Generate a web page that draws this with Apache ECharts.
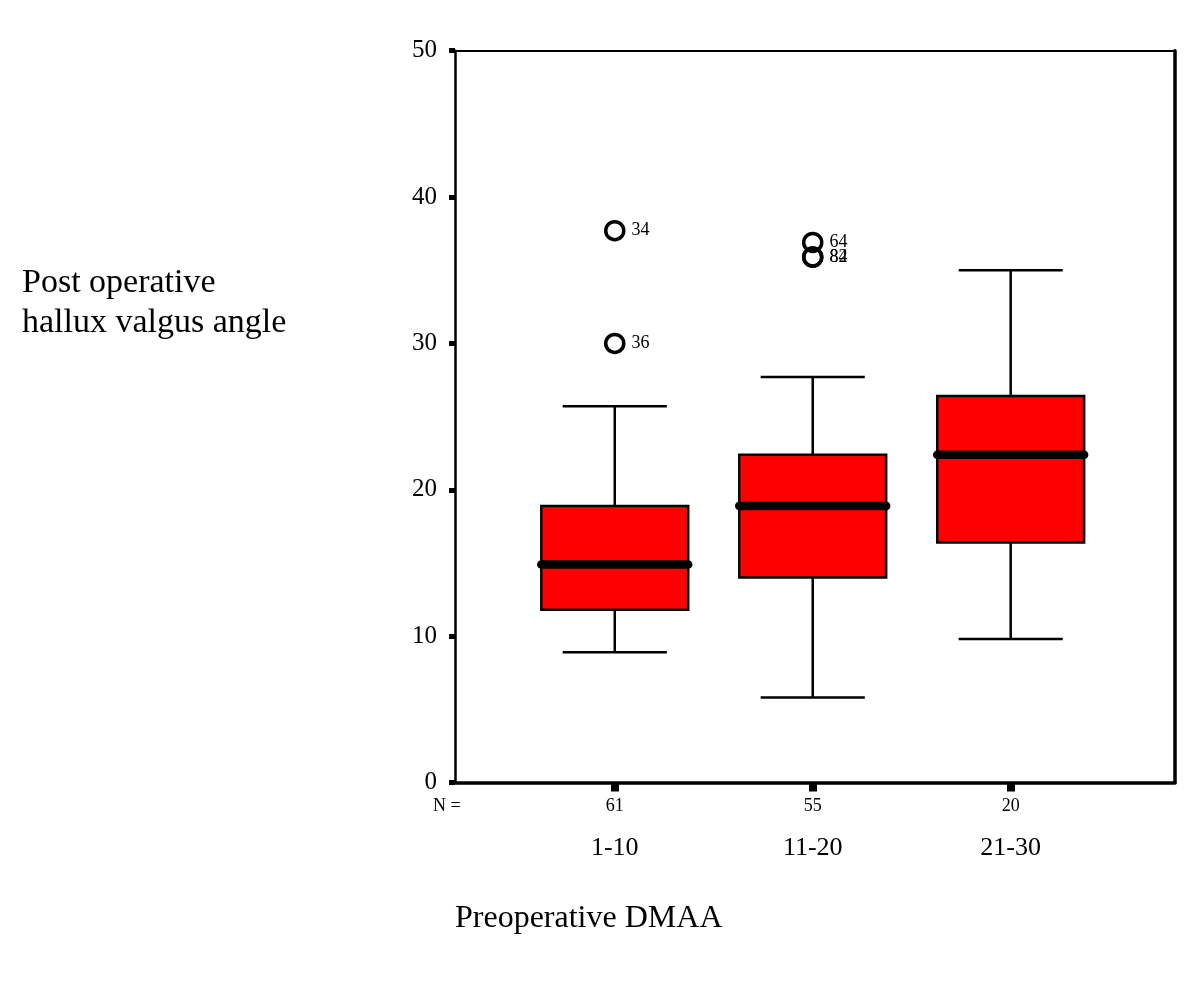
<!DOCTYPE html>
<html>
<head>
<meta charset="utf-8">
<script src="https://cdn.jsdelivr.net/npm/echarts@6/dist/echarts.min.js"></script>
<style>html,body{margin:0;padding:0;background:#fff;}#chart{width:1200px;height:984px;}</style>
</head>
<body>
<div id="chart"></div>
<script>
// ---- data ----
const categories = ['1-10', '11-20', '21-30'];
const categoryPos = [1, 2, 3];
const counts = [61, 55, 20];
const whiskerLow = [8.9, 5.8, 9.8];
const q1 = [11.8, 14.0, 16.4];
const median = [14.9, 18.9, 22.4];
const q3 = [18.9, 22.4, 26.4];
const whiskerHigh = [25.7, 27.7, 35.0];
const outlierGroup = [0, 0, 1, 1, 1];
const outlierValue = [37.7, 30.0, 36.9, 35.9, 35.9];
const outlierId = ['34', '36', '64', '82', '84'];
const yTicks = [0, 10, 20, 30, 40, 50];

const FONT = 'Liberation Serif';
const xMin = 0.193, xMax = 3.830;

const boxData = categories.map((c, i) => [categoryPos[i], whiskerLow[i], q1[i], median[i], q3[i], whiskerHigh[i]]);
const outlierData = outlierValue.map((v, i) => ({ value: [categoryPos[outlierGroup[i]], v], name: outlierId[i] }));

const chart = echarts.init(document.getElementById('chart'), null, { renderer: 'canvas' });

const option = {
  animation: false,
  backgroundColor: '#ffffff',
  title: [
    {
      text: 'Post operative\nhallux valgus angle',
      left: 22, top: 263, padding: 0,
      textStyle: { fontFamily: FONT, fontSize: 34, lineHeight: 40, fontWeight: 'normal', color: '#000' }
    },
    {
      text: 'Preoperative DMAA',
      left: 455, top: 903, padding: 0,
      textStyle: { fontFamily: FONT, fontSize: 32, lineHeight: 32, fontWeight: 'normal', color: '#000' }
    }
  ],
  graphic: [
    {
      type: 'text', left: 433, top: 797,
      style: { text: 'N =', fontFamily: FONT, fontSize: 18, fill: '#000' }
    }
  ],
  grid: { left: 455, right: 25, top: 50.7, bottom: 201.5, show: false },
  xAxis: [
    {
      type: 'value', position: 'bottom', min: xMin, max: xMax,
      splitLine: { show: false },
      axisLine: { show: true, lineStyle: { color: '#000', width: 3.5 } },
      axisTick: { show: true, customValues: categoryPos, length: 9, lineStyle: { color: '#000', width: 8 } },
      axisLabel: {
        show: true, customValues: categoryPos, margin: 15,
        fontFamily: FONT, fontSize: 18, color: '#000',
        formatter: (v) => { const i = categoryPos.indexOf(Math.round(v)); return i >= 0 ? String(counts[i]) : ''; }
      }
    },
    {
      type: 'value', position: 'bottom', min: xMin, max: xMax,
      splitLine: { show: false },
      axisLine: { show: false },
      axisTick: { show: false },
      axisLabel: {
        show: true, customValues: categoryPos, margin: 53,
        fontFamily: FONT, fontSize: 26, color: '#000',
        formatter: (v) => { const i = categoryPos.indexOf(Math.round(v)); return i >= 0 ? categories[i] : ''; }
      }
    },
    {
      type: 'value', position: 'top', min: xMin, max: xMax,
      splitLine: { show: false },
      axisLine: { show: true, lineStyle: { color: '#000', width: 2 } },
      axisTick: { show: false }, axisLabel: { show: false }
    }
  ],
  yAxis: [
    {
      type: 'value', position: 'left', min: 0, max: 50, interval: 10,
      splitLine: { show: false },
      axisLine: { show: true, lineStyle: { color: '#000', width: 2.5 } },
      axisTick: { show: true, inside: false, length: 6, lineStyle: { color: '#000', width: 5 } },
      axisLabel: { show: true, margin: 18, fontFamily: FONT, fontSize: 25, color: '#000' }
    },
    {
      type: 'value', position: 'right', min: 0, max: 50, interval: 10,
      splitLine: { show: false },
      axisLine: { show: true, lineStyle: { color: '#000', width: 3.5 } },
      axisTick: { show: false }, axisLabel: { show: false }
    }
  ],
  series: [
    {
      type: 'custom',
      xAxisIndex: 0, yAxisIndex: 0,
      data: boxData,
      encode: { x: 0, y: [1, 2, 3, 4, 5] },
      renderItem: function (params, api) {
        const x = api.value(0);
        const unit = api.size([1, 0])[0];
        const boxHalf = unit * 0.371;
        const capHalf = unit * 0.263;
        const pMin = api.coord([x, api.value(1)]);
        const pQ1 = api.coord([x, api.value(2)]);
        const pMed = api.coord([x, api.value(3)]);
        const pQ3 = api.coord([x, api.value(4)]);
        const pMax = api.coord([x, api.value(5)]);
        const cx = pMin[0];
        const lineStyle = { stroke: '#000', lineWidth: 2.5 };
        return {
          type: 'group',
          children: [
            { type: 'line', shape: { x1: cx, y1: pMin[1], x2: cx, y2: pQ1[1] }, style: lineStyle },
            { type: 'line', shape: { x1: cx, y1: pQ3[1], x2: cx, y2: pMax[1] }, style: lineStyle },
            { type: 'line', shape: { x1: cx - capHalf, y1: pMin[1], x2: cx + capHalf, y2: pMin[1] }, style: lineStyle },
            { type: 'line', shape: { x1: cx - capHalf, y1: pMax[1], x2: cx + capHalf, y2: pMax[1] }, style: lineStyle },
            {
              type: 'rect',
              shape: { x: cx - boxHalf, y: pQ3[1], width: boxHalf * 2, height: pQ1[1] - pQ3[1] },
              style: { fill: '#ff0000', stroke: '#000', lineWidth: 2.5 }
            },
            {
              type: 'line',
              shape: { x1: cx - boxHalf, y1: pMed[1], x2: cx + boxHalf, y2: pMed[1] },
              style: { stroke: '#000', lineWidth: 8.5, lineCap: 'round' }
            }
          ]
        };
      },
      z: 3
    },
    {
      type: 'scatter',
      xAxisIndex: 0, yAxisIndex: 0,
      data: outlierData,
      symbol: 'circle',
      symbolSize: 18,
      itemStyle: { color: 'rgba(0,0,0,0)', borderColor: '#000', borderWidth: 3.5, opacity: 1 },
      label: {
        show: true, position: 'right', distance: 6,
        formatter: (p) => p.name,
        fontFamily: FONT, fontSize: 18, color: '#000'
      },
      emphasis: { disabled: true },
      z: 4
    }
  ]
};

chart.setOption(option);
</script>
</body>
</html>
